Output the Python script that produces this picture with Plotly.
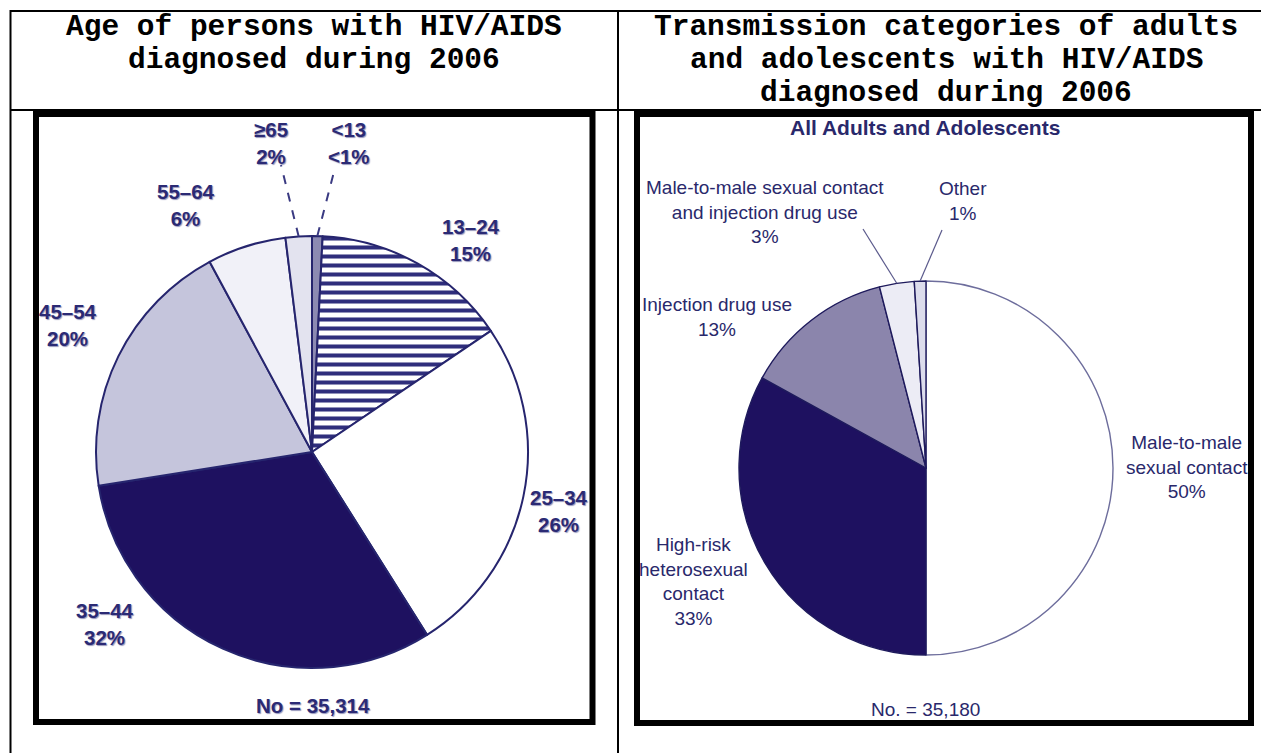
import math
import plotly.graph_objects as go

W, H = 1261, 753

# ---------------- data ----------------
header_left = ["Age of persons with HIV/AIDS", "diagnosed during 2006"]
header_right = ["Transmission categories of adults",
                "and adolescents with HIV/AIDS",
                "diagnosed during 2006"]

age_labels = ["<13", "13–24", "25–34", "35–44", "45–54", "55–64", "≥65"]
age_values = [0.8, 15, 26, 32, 20, 6, 2]
age_pct = ["<1%", "15%", "26%", "32%", "20%", "6%", "2%"]
age_total = "No = 35,314"

trans_title = "All Adults and Adolescents"
trans_labels = ["Male-to-male<br>sexual contact",
                "High-risk<br>heterosexual<br>contact",
                "Injection drug use",
                "Male-to-male sexual contact<br>and injection drug use",
                "Other"]
trans_values = [50, 33, 13, 3, 1]
trans_pct = ["50%", "33%", "13%", "3%", "1%"]
trans_total = "No. = 35,180"

# ---------------- styles / layout ----------------
NAVY = "#1e1160"
age_colors = ["#8c8ab2", "#ffffff", "#ffffff", NAVY, "#c5c5dc", "#f1f1f8", "#e3e3ef"]
age_patterns = ["", "-", "", "", "", "", ""]
trans_colors = ["#ffffff", NAVY, "#8b85ac", "#ececf5", "#dcdcec"]
trans_line_colors = ["#6d6d9c", "#1e1a5c", "#1e1a5c", "#1e1a5c", "#1e1a5c"]

L_CX, L_CY, L_R = 312, 452, 216
R_CX, R_CY, R_R = 926, 468, 187

# label centres (pixels) for each slice
age_label_pos = [(349, 143), (471, 240), (559, 511), (105, 624), (68, 325), (186, 205), (271, 143)]
age_leader_end = [(335, 168), None, None, None, None, None, (281, 165)]
trans_label_pos = [(1187, 467), (693, 581), (717, 317), (765, 212), (963, 201)]
trans_leader_end = [None, None, None, (863, 229), (942, 230)]


def fx(x):
    return x / W


def fy(y):
    return 1 - y / H


def edge_point(values, i, cx, cy, r):
    tot = sum(values)
    cum = sum(values[:i]) + values[i] / 2
    th = cum / tot * 2 * math.pi
    return cx + r * math.sin(th), cy - r * math.cos(th)


fig = go.Figure()

fig.add_trace(go.Pie(
    values=age_values, labels=age_labels, sort=False, direction="clockwise", rotation=0,
    textinfo="none", hoverinfo="skip", showlegend=False,
    marker=dict(colors=age_colors, line=dict(color="#26256e", width=2),
                pattern=dict(shape=age_patterns, fgcolor="#2f2e7c", bgcolor="#ffffff",
                             size=9, solidity=0.45)),
    domain=dict(x=[fx(L_CX - L_R), fx(L_CX + L_R)], y=[fy(L_CY + L_R), fy(L_CY - L_R)]),
))

fig.add_trace(go.Pie(
    values=trans_values, labels=[l.replace("<br>", " ") for l in trans_labels], sort=False,
    direction="clockwise", rotation=0,
    textinfo="none", hoverinfo="skip", showlegend=False,
    marker=dict(colors=trans_colors, line=dict(color=trans_line_colors, width=1.4)),
    domain=dict(x=[fx(R_CX - R_R), fx(R_CX + R_R)], y=[fy(R_CY + R_R), fy(R_CY - R_R)]),
))

shapes = []
# table lines
tbl = dict(type="line", xref="paper", yref="paper", line=dict(color="black", width=2))
shapes.append(dict(tbl, x0=fx(10), x1=fx(1261), y0=fy(11), y1=fy(11)))
shapes.append(dict(tbl, x0=fx(10), x1=fx(1261), y0=fy(110), y1=fy(110)))
shapes.append(dict(tbl, x0=fx(10.5), x1=fx(10.5), y0=fy(10), y1=fy(753)))
shapes.append(dict(tbl, x0=fx(618), x1=fx(618), y0=fy(10), y1=fy(753)))
# chart frames
fr = dict(type="rect", xref="paper", yref="paper", line=dict(color="black", width=6),
          fillcolor="rgba(0,0,0,0)", layer="above")
shapes.append(dict(fr, x0=fx(36), x1=fx(592.5), y0=fy(114), y1=fy(722)))
shapes.append(dict(fr, x0=fx(637), x1=fx(1251), y0=fy(114), y1=fy(723)))

# leader lines
for i, end in enumerate(age_leader_end):
    if end is None:
        continue
    sx, sy = edge_point(age_values, i, L_CX, L_CY, L_R)
    shapes.append(dict(type="line", xref="paper", yref="paper",
                       x0=fx(sx), y0=fy(sy), x1=fx(end[0]), y1=fy(end[1]),
                       line=dict(color="#3a3a82", width=2, dash="dash")))
for i, end in enumerate(trans_leader_end):
    if end is None:
        continue
    sx, sy = edge_point(trans_values, i, R_CX, R_CY, R_R)
    shapes.append(dict(type="line", xref="paper", yref="paper",
                       x0=fx(sx), y0=fy(sy), x1=fx(end[0]), y1=fy(end[1]),
                       line=dict(color="#5b5a8c", width=1.2)))

annotations = []
HFONT = dict(family="Liberation Mono, Courier New, monospace", size=29.5, color="black", weight="bold")
for k, t in enumerate(header_left):
    annotations.append(dict(text=t, x=fx(314), y=fy(27 + 33 * k), xref="paper", yref="paper",
                            showarrow=False, xanchor="center", yanchor="middle", font=HFONT))
for k, t in enumerate(header_right):
    annotations.append(dict(text=t, x=fx(946), y=fy(27 + 33 * k), xref="paper", yref="paper",
                            showarrow=False, xanchor="center", yanchor="middle", font=HFONT))

LFONT = dict(family="Liberation Sans, Arial, sans-serif", size=20.5, color="#2b2a74", weight="bold",
             shadow="1px 1px 1px #9696bb")
for i, (lab, pct) in enumerate(zip(age_labels, age_pct)):
    x, y = age_label_pos[i]
    annotations.append(dict(text=lab.replace("<", "&lt;") + "<br>" + pct.replace("<", "&lt;"),
                            x=fx(x), y=fy(y), xref="paper", yref="paper", showarrow=False,
                            xanchor="center", yanchor="middle", font=LFONT))
annotations.append(dict(text=age_total, x=fx(313), y=fy(705), xref="paper", yref="paper",
                        showarrow=False, xanchor="center", yanchor="middle", font=LFONT))

RFONT = dict(family="Liberation Sans, Arial, sans-serif", size=19, color="#29286b")
for i, (lab, pct) in enumerate(zip(trans_labels, trans_pct)):
    x, y = trans_label_pos[i]
    annotations.append(dict(text=lab + "<br>" + pct, x=fx(x), y=fy(y), xref="paper", yref="paper",
                            showarrow=False, xanchor="center", yanchor="middle", font=RFONT))
annotations.append(dict(text=trans_title, x=fx(925), y=fy(128), xref="paper", yref="paper",
                        showarrow=False, xanchor="center", yanchor="middle",
                        font=dict(RFONT, weight="bold", size=21)))
annotations.append(dict(text=trans_total, x=fx(926), y=fy(709), xref="paper", yref="paper",
                        showarrow=False, xanchor="center", yanchor="middle", font=RFONT))

fig.update_layout(width=W, height=H, margin=dict(l=0, r=0, t=0, b=0),
                  paper_bgcolor="white", plot_bgcolor="white",
                  shapes=shapes, annotations=annotations)

fig.write_html("out.html", post_script="document.body.style.margin='0';",
               config={"displayModeBar": False})
